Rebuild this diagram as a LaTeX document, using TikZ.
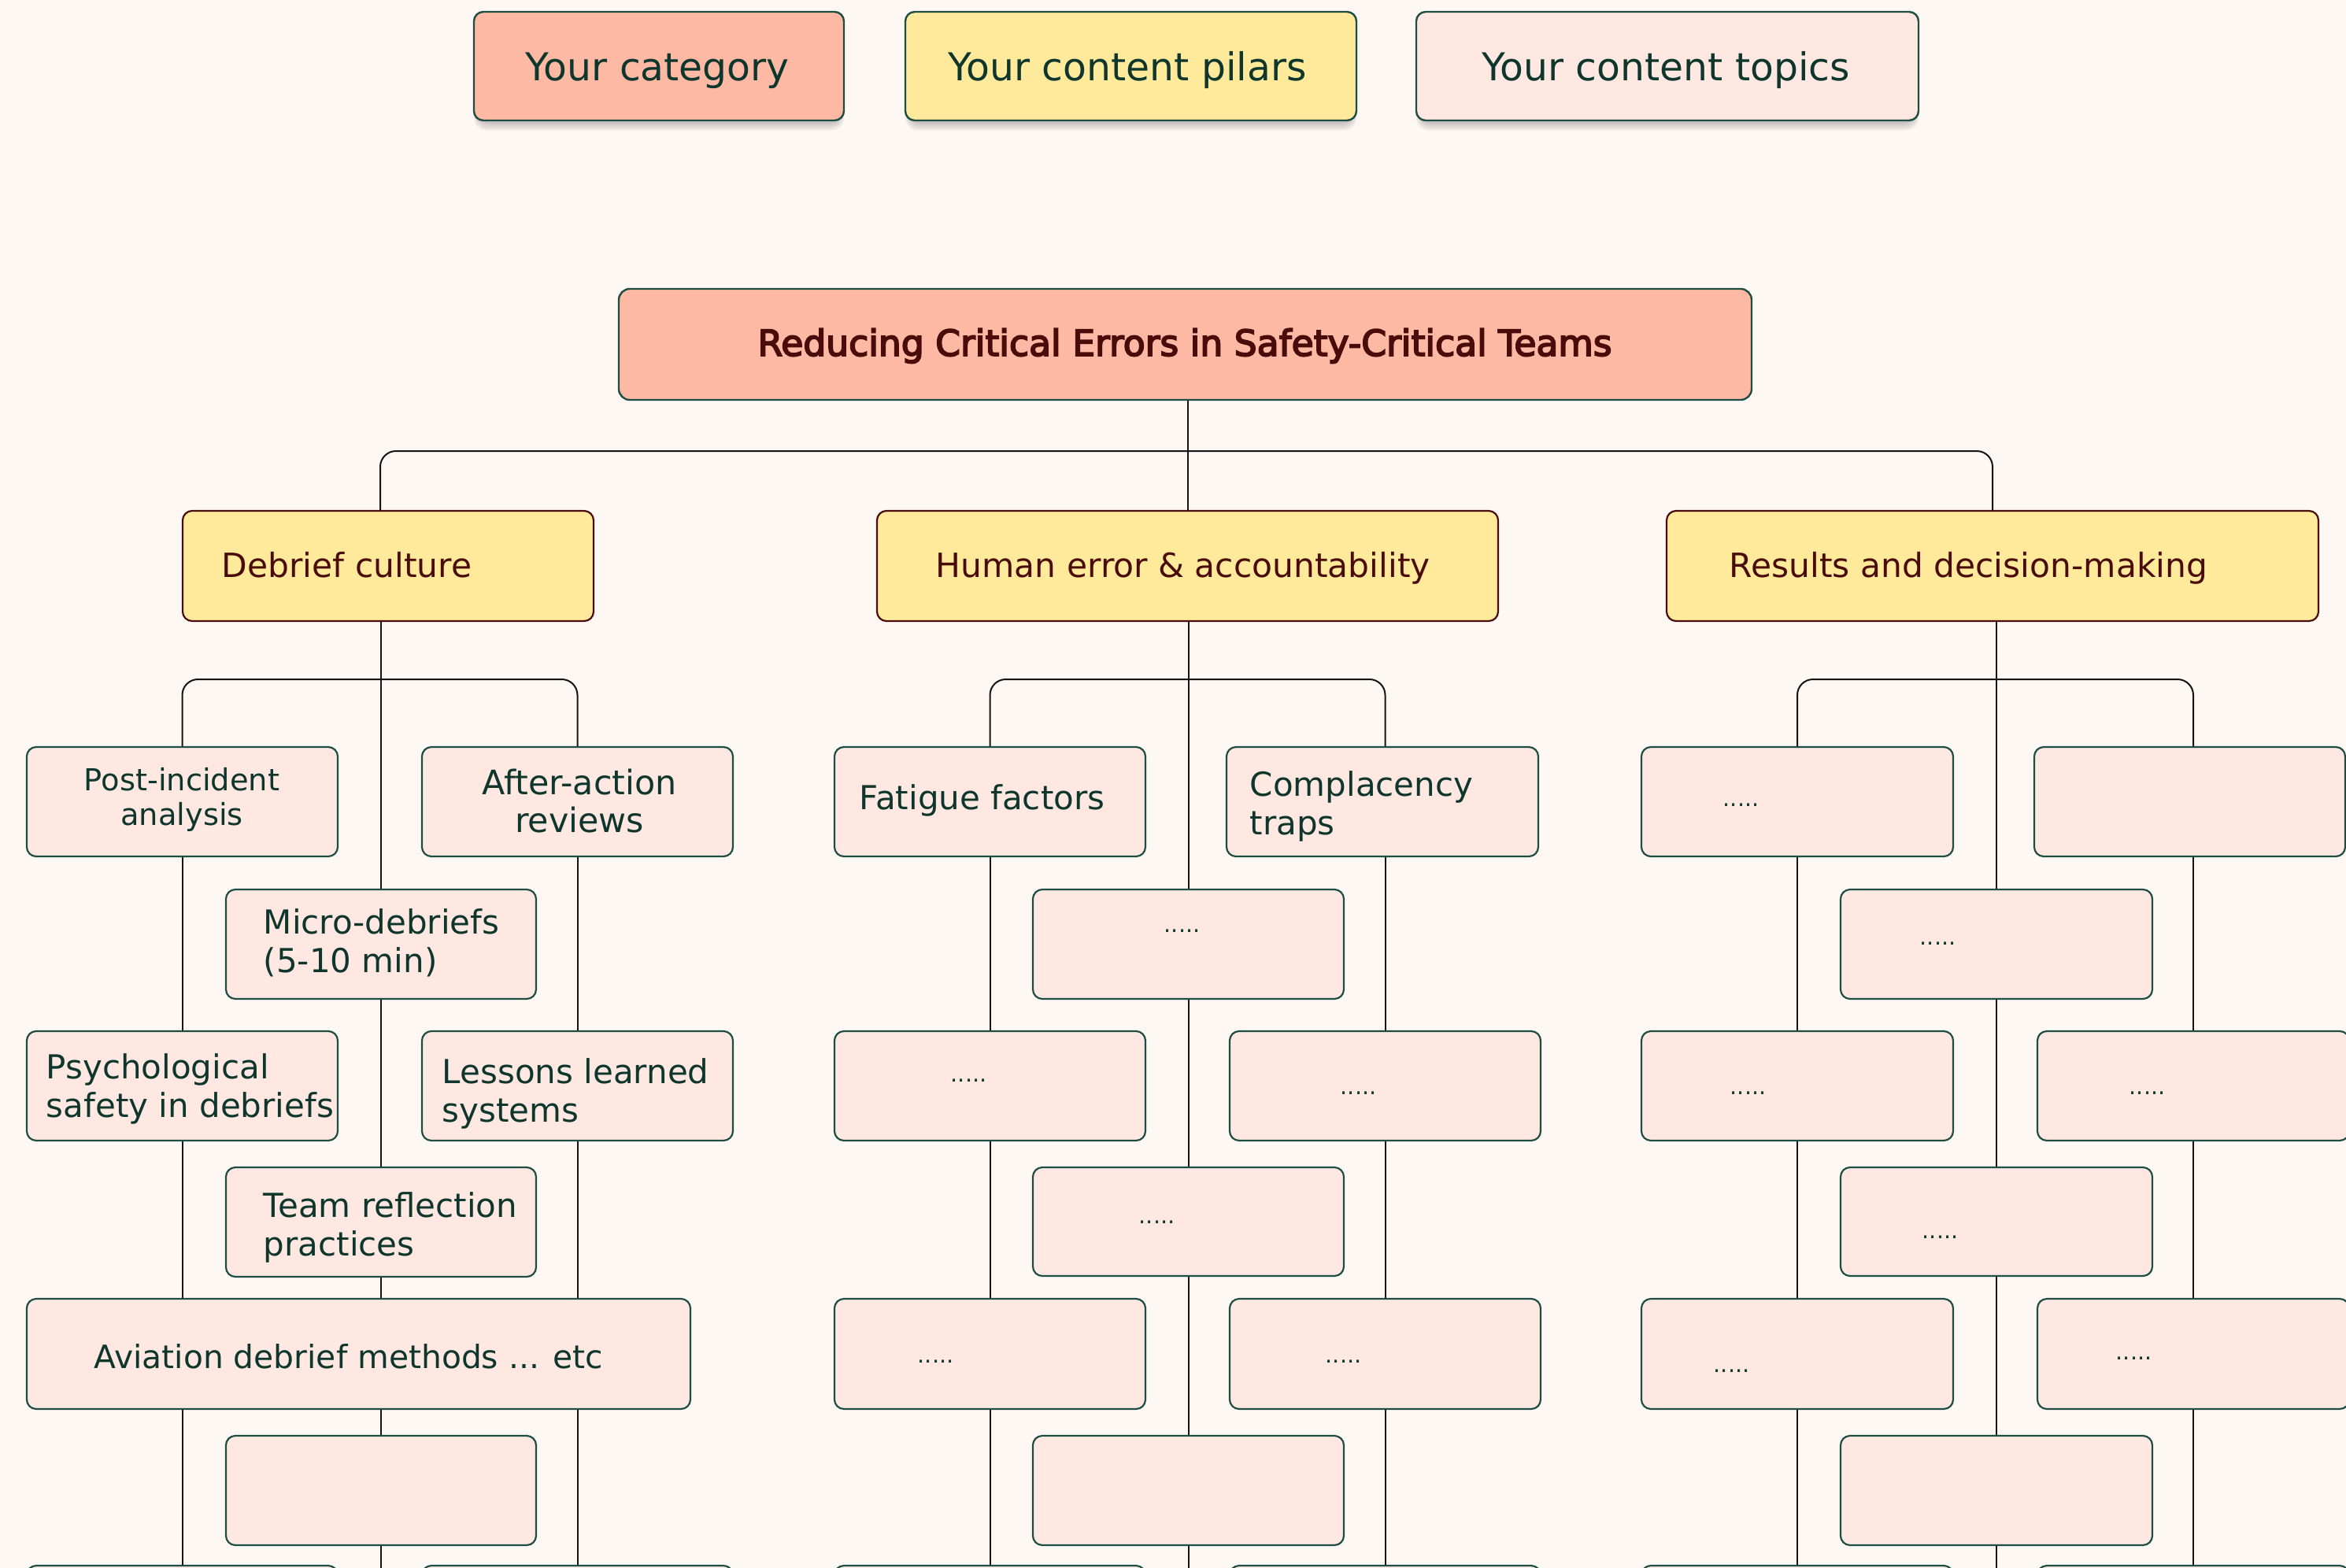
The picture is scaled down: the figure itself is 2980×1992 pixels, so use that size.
\documentclass[tikz,border=0pt]{standalone}
\usepackage{fontspec}
\setmainfont{DejaVu Sans}
\newfontfamily\heavyface[FakeBold=4]{DejaVu Sans}
\usetikzlibrary{fit,backgrounds}

\definecolor{paper}{HTML}{FEF8F5}
\definecolor{salmon}{HTML}{FDB9A4}
\definecolor{butter}{HTML}{FFE99B}
\definecolor{blush}{HTML}{FFE8E2}
\definecolor{pine}{HTML}{1D4D43}
\definecolor{maroon}{HTML}{4A0C0A}
\definecolor{inkgreen}{HTML}{0F362C}
\definecolor{wirecol}{HTML}{141414}

\tikzset{
  x=0.25pt, y=-0.25pt,
  card/.style={rectangle, rounded corners=3pt, inner sep=0pt, line width=0.55pt},
  keycard/.style={card, draw=pine, line width=0.6pt},
  headcard/.style={card, fill=salmon, draw=pine, line width=0.6pt, rounded corners=3.5pt},
  pillarcard/.style={card, fill=butter, draw=maroon},
  topiccard/.style={card, fill=blush, draw=pine},
  wire/.style={draw=wirecol, line width=0.5pt},
  keytext/.style={inner sep=0pt, text=inkgreen, font=\fontsize{12.2pt}{14pt}\selectfont},
  headtext/.style={inner sep=0pt, text=maroon, font=\heavyface\fontsize{11.4pt}{13pt}\selectfont},
  pillartext/.style={inner sep=0pt, text=maroon, font=\fontsize{10.6pt}{12.5pt}\selectfont},
  topictext/.style={inner sep=0pt, text=inkgreen, font=\fontsize{10.5pt}{12.4pt}\selectfont},
  dottext/.style={inner sep=0pt, text=inkgreen, font=\fontsize{7.2pt}{8pt}\selectfont},
}

% a card spanning two corner points: style, name, x1, y1, x2, y2
\newcommand\card[6]{\node[#1, fit={(#3,#4) (#5,#6)}] (#2) {};}
% stacked lines whose first baseline is the node's base
\newcommand\stack[2]{\begin{tabular}[t]{@{}#1@{}}#2\end{tabular}}
% soft shadow under a key card
\newcommand\haze[4]{%
  \foreach \k in {1,...,7}{%
    \fill[black, opacity=0.03, rounded corners=4pt]
      ({#1+4-\k*0.6},{#2+6}) rectangle ({#3-4+\k*0.6},{#4+2+\k*1.6});
  }}

\begin{document}
\begin{tikzpicture}
\useasboundingbox (0,0) rectangle (2980,1992);
\begin{scope}[on background layer]
  \fill[paper] (0,0) rectangle (2980,1992);
\end{scope}
\clip (0,0) rectangle (2980,1992);

% ---- key ----
\haze{602}{15}{1072}{153}
\haze{1150}{15}{1723}{153}
\haze{1799}{15}{2437}{153}
\card{keycard, fill=salmon}{keyA}{602}{15}{1072}{153}
\card{keycard, fill=butter}{keyB}{1150}{15}{1723}{153}
\card{keycard, fill=blush}{keyC}{1799}{15}{2437}{153}
\node[keytext, anchor=base] (keyAt) at (835,102) {Your category};
\node[keytext, anchor=base] (keyBt) at (1432,102) {Your content pilars};
\node[keytext, anchor=base] (keyCt) at (2116,102) {Your content topics};

% ---- category ----
\card{headcard}{title}{786}{367}{2225}{508}
\node[headtext, anchor=base] (titlet) at (1505,452) {Reducing Critical Errors in Safety-Critical Teams};

% ---- pillars ----
\card{pillarcard}{deb}{232}{649}{754}{789}
\card{pillarcard}{hum}{1114}{649}{1903}{789}
\card{pillarcard}{res}{2117}{649}{2945}{789}
\node[pillartext, anchor=base west] (debt) at (281,733) {Debrief culture};
\node[pillartext, anchor=base west] (humt) at (1188,733) {Human error \& accountability};
\node[pillartext, anchor=base west] (rest) at (2196,733) {Results and decision-making};

% ---- topics under Debrief culture ----
\card{topiccard}{pa}{34}{949}{429}{1088}
\card{topiccard}{pb}{536}{949}{931}{1088}
\card{topiccard}{pc}{287}{1130}{681}{1269}
\card{topiccard}{pd}{34}{1310}{429}{1449}
\card{topiccard}{pe}{536}{1310}{931}{1449}
\card{topiccard}{pf}{287}{1483}{681}{1622}
\card{topiccard}{pg}{34}{1650}{877}{1790}
\card{topiccard}{ph}{287}{1824}{681}{1963}
\card{topiccard}{pi}{34}{1989}{429}{2120}
\card{topiccard}{pj}{536}{1989}{931}{2120}
\node[topictext, anchor=base, font=\fontsize{9.6pt}{11pt}\selectfont] (pat) at (231,1004) {\stack{c}{Post-incident\\analysis}};
\node[topictext, anchor=base, font=\fontsize{10.7pt}{12pt}\selectfont] (pbt) at (736,1009) {\stack{c}{After-action\\reviews}};
\node[topictext, anchor=base west] (pct) at (334,1186) {\stack{l}{Micro-debriefs\\(5-10 min)}};
\node[topictext, anchor=base west] (pdt) at (58,1370) {\stack{l}{Psychological\\safety in debriefs}};
\node[topictext, anchor=base west] (pet) at (561,1376) {\stack{l}{Lessons learned\\systems}};
\node[topictext, anchor=base west] (pft) at (334,1546) {\stack{l}{Team reflection\\practices}};
\node[topictext, anchor=base west, font=\fontsize{10.2pt}{12pt}\selectfont] (pgt) at (119,1738) {Aviation debrief methods ... etc};

% ---- topics under Human error & accountability ----
\card{topiccard}{qa}{1060}{949}{1455}{1088}
\card{topiccard}{qb}{1558}{949}{1954}{1088}
\card{topiccard}{qc}{1312}{1130}{1707}{1269}
\card{topiccard}{qd}{1060}{1310}{1455}{1449}
\card{topiccard}{qe}{1562}{1310}{1957}{1449}
\card{topiccard}{qf}{1312}{1483}{1707}{1621}
\card{topiccard}{qg}{1060}{1650}{1455}{1790}
\card{topiccard}{qh}{1562}{1650}{1957}{1790}
\card{topiccard}{qi}{1312}{1824}{1707}{1963}
\card{topiccard}{qj}{1060}{1989}{1455}{2120}
\card{topiccard}{qk}{1562}{1989}{1957}{2120}
\node[topictext, anchor=base west] (qat) at (1091,1028) {Fatigue factors};
\node[topictext, anchor=base west] (qbt) at (1587,1011) {\stack{l}{Complacency\\traps}};
\node[dottext, anchor=base west] (qct) at (1478,1184) {.....};
\node[dottext, anchor=base west] (qdt) at (1207,1374) {.....};
\node[dottext, anchor=base west] (qet) at (1702,1390) {.....};
\node[dottext, anchor=base west] (qft) at (1446,1554) {.....};
\node[dottext, anchor=base west] (qgt) at (1165,1731) {.....};
\node[dottext, anchor=base west] (qht) at (1683,1731) {.....};

% ---- topics under Results and decision-making ----
\card{topiccard}{ra}{2085}{949}{2481}{1088}
\card{topiccard}{rb}{2584}{949}{2979}{1088}
\card{topiccard}{rc}{2338}{1130}{2734}{1269}
\card{topiccard}{rd}{2085}{1310}{2481}{1449}
\card{topiccard}{re}{2588}{1310}{2984}{1449}
\card{topiccard}{rf}{2338}{1483}{2734}{1621}
\card{topiccard}{rg}{2085}{1650}{2481}{1790}
\card{topiccard}{rh}{2588}{1650}{2984}{1790}
\card{topiccard}{ri}{2338}{1824}{2734}{1963}
\card{topiccard}{rj}{2085}{1989}{2481}{2120}
\card{topiccard}{rk}{2588}{1989}{2984}{2120}
\node[dottext, anchor=base west] (rat) at (2188,1024) {.....};
\node[dottext, anchor=base west] (rct) at (2438,1200) {.....};
\node[dottext, anchor=base west] (rdt) at (2197,1390) {.....};
\node[dottext, anchor=base west] (ret) at (2704,1390) {.....};
\node[dottext, anchor=base west] (rft) at (2441,1573) {.....};
\node[dottext, anchor=base west] (rgt) at (2176,1743) {.....};
\node[dottext, anchor=base west] (rht) at (2687,1727) {.....};

% ---- connectors, behind the cards ----
\coordinate (mainbus) at (1508,573);
\coordinate (busP) at (484,863);
\coordinate (busQ) at (1510,863);
\coordinate (busR) at (2534,863);
\coordinate (floor) at (1500,2100);
\begin{scope}[on background layer]
  % category to pillars
  \draw[wire, rounded corners=5pt] ([xshift=-2.5pt]deb.center) -- ([xshift=-2.5pt]deb.center |- mainbus)
     -- (res.center |- mainbus) -- (res.center);
  \draw[wire] (hum.center |- title.center) -- (hum.center);
  % Debrief culture
  \draw[wire, rounded corners=5pt] (pa.center) -- (pa.center |- busP) -- (pb.center |- busP) -- (pb.center);
  \draw[wire] (pc.center |- deb.center) -- (pc.center) -- (pf.center) -- (ph.center) -- (ph.center |- floor);
  \draw[wire] (pa.center) -- (pd.center) -- (pi.center);
  \draw[wire] (pb.center) -- (pe.center) -- (pj.center);
  % Human error & accountability
  \draw[wire, rounded corners=5pt] (qa.center) -- (qa.center |- busQ) -- (qe.center |- busQ) -- (qe.center |- qb.center);
  \draw[wire] (qc.center |- hum.center) -- (qc.center) -- (qf.center) -- (qi.center) -- (qi.center |- floor);
  \draw[wire] (qa.center) -- (qd.center) -- (qg.center) -- (qj.center);
  \draw[wire] (qe.center |- qb.center) -- (qe.center) -- (qh.center) -- (qk.center);
  % Results and decision-making
  \draw[wire, rounded corners=5pt] (ra.center) -- (ra.center |- busR) -- (re.center |- busR) -- (re.center |- rb.center);
  \draw[wire] (rc.center |- res.center) -- (rc.center) -- (rf.center) -- (ri.center) -- (ri.center |- floor);
  \draw[wire] (ra.center) -- (rd.center) -- (rg.center) -- (rj.center);
  \draw[wire] (re.center |- rb.center) -- (re.center) -- (rh.center) -- (rk.center);
\end{scope}
\end{tikzpicture}
\end{document}
